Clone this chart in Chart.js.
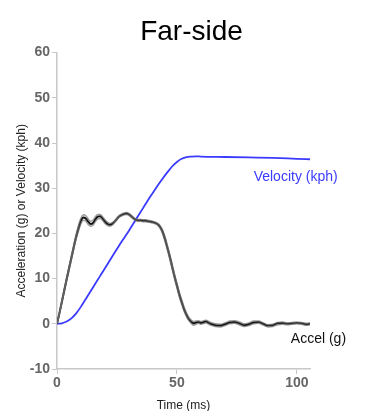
<!DOCTYPE html>
<html>
<head>
<meta charset="utf-8">
<script src="https://cdn.jsdelivr.net/npm/chart.js@4"></script>
<style>
html,body{margin:0;padding:0;background:#fff;}
#wrap{width:383px;height:411px;position:relative;}
</style>
</head>
<body>
<div id="wrap"><canvas id="c" width="383" height="411"></canvas></div>
<script>
const chartTitle = "Far-side";
const xTitle = "Time (ms)";
const yTitle = "Acceleration (g) or Velocity (kph)";
const xTicks = [0, 50, 100];
const yTicks = [-10, 0, 10, 20, 30, 40, 50, 60];

const accelTime = [0,1,2,3,4,5,6,7,8,9,10,11,12,13,14,15,16,17,18,19,20,21,22,23,24,25,26,27,28,29,30,31,32,33,34,35,36,37,38,39,40,41,42,43,44,45,46,47,48,49,50,51,52,53,54,55,56,57,58,59,60,62,64,66,68,70,72,74,76,78,80,82,84,86,88,90,92,94,96,98,100,102,104,105.5];
const accel     = [0,2.3,4.8,7.3,9.8,12.2,14.6,17,19.3,21.2,22.8,23.5,23.3,22.6,22.1,22.3,23.1,23.7,23.8,23.3,22.6,22.1,21.9,22.1,22.6,23.2,23.8,24.1,24.3,24.4,24.2,23.8,23.3,23.0,22.9,22.9,22.8,22.8,22.7,22.6,22.5,22.3,22.0,21.4,20.4,18.8,16.9,14.9,12.7,10.5,8.5,6.5,4.8,3.2,2.0,1.0,0.4,0.1,0.3,0.4,0.2,0.5,0.0,-0.3,-0.4,-0.1,0.3,0.4,0.1,-0.3,-0.1,0.3,0.4,0.0,-0.4,-0.3,0.1,0.2,0.0,0.1,0.2,0.1,-0.1,0];
const accelHi   = [0,2.4,5.0,7.6,10.1,12.6,15.0,17.4,19.8,21.8,23.4,24.1,23.9,23.2,22.7,22.9,23.7,24.2,24.2,23.7,23.0,22.5,22.2,22.4,22.8,23.4,24.0,24.3,24.5,24.6,24.4,24.0,23.5,23.2,23.1,23.1,23.0,23.0,22.9,22.8,22.7,22.5,22.2,21.7,20.8,19.3,17.4,15.4,13.2,11.0,9.0,7.0,5.3,3.7,2.4,1.4,0.8,0.5,0.6,0.7,0.5,0.8,0.3,0.0,-0.1,0.2,0.6,0.7,0.4,0.0,0.2,0.6,0.6,0.2,-0.2,-0.1,0.3,0.4,0.2,0.3,0.4,0.3,0.1,0.2];
const accelLo   = [0,2.2,4.6,7.0,9.5,11.8,14.2,16.6,18.8,20.6,22.2,22.9,22.7,22.0,21.6,21.8,22.6,23.2,23.3,22.9,22.2,21.8,21.6,21.8,22.4,23.0,23.6,23.9,24.1,24.2,24.0,23.6,23.1,22.8,22.7,22.7,22.6,22.6,22.5,22.4,22.3,22.1,21.8,21.1,20.0,18.3,16.4,14.4,12.2,10.0,8.0,6.0,4.3,2.8,1.6,0.7,0.1,-0.3,-0.1,0.1,-0.1,0.2,-0.3,-0.6,-0.7,-0.4,0.0,0.1,-0.2,-0.6,-0.4,0.0,0.1,-0.3,-0.7,-0.6,-0.2,-0.1,-0.2,-0.1,0.0,-0.1,-0.3,-0.2];

const velTime = [0,2,4,6,8,10,12,14,16,18,20,22,24,26,28,30,32,34,36,38,40,42,44,46,48,50,52,54,56,58,60,70,80,90,100,105.5];
const velocity = [0,0.1,0.5,1.2,2.3,3.8,5.5,7.2,8.9,10.6,12.3,14.0,15.7,17.4,19.0,20.6,22.3,24.0,25.7,27.4,29.0,30.6,32.1,33.5,34.8,35.8,36.5,36.9,37.0,37.05,37.0,36.9,36.8,36.7,36.5,36.4];

const seriesLabels = [
  {text: "Velocity (kph)", x: 82, y: 32.4, color: "#3b3bff"},
  {text: "Accel (g)", x: 97.5, y: -3.3, color: "#111111"}
];

function pts(t, v){ return t.map((x,i)=>({x:x, y:v[i]})); }

const labelPlugin = {
  id: 'seriesLabels',
  afterDatasetsDraw(chart){
    const ctx = chart.ctx, xs = chart.scales.x, ys = chart.scales.y;
    ctx.save();
    ctx.font = '14px "Liberation Sans", Arial, sans-serif';
    ctx.textAlign = 'left';
    ctx.textBaseline = 'middle';
    seriesLabels.forEach(l=>{
      ctx.fillStyle = l.color;
      ctx.fillText(l.text, xs.getPixelForValue(l.x), ys.getPixelForValue(l.y));
    });
    ctx.restore();
  }
};

const lineOpts = {pointRadius: 0, cubicInterpolationMode: 'monotone'};

new Chart(document.getElementById('c'), {
  type: 'line',
  data: {
    datasets: [
      Object.assign({data: pts(accelTime, accelHi), borderColor: 'rgba(110,110,110,0.7)', borderWidth: 1.5}, lineOpts),
      Object.assign({data: pts(accelTime, accelLo), borderColor: 'rgba(110,110,110,0.7)', borderWidth: 1.5}, lineOpts),
      Object.assign({data: pts(accelTime, accel), borderColor: '#111', borderWidth: 2}, lineOpts),
      Object.assign({data: pts(velTime, velocity), borderColor: '#3b3bff', borderWidth: 1.8}, lineOpts)
    ]
  },
  options: {
    responsive: false,
    animation: false,
    layout: {padding: 0},
    plugins: {
      legend: {display: false},
      tooltip: {enabled: false},
      title: {display: true, text: chartTitle, color: '#000', font: {family: '"Liberation Sans", Arial, sans-serif', size: 28, weight: 'normal'}, padding: {top: 15, bottom: 4}}
    },
    scales: {
      x: {
        type: 'linear', min: 0, max: 105.5,
        afterBuildTicks: s => { s.ticks = xTicks.map(v=>({value:v})); },
        afterFit: s => { s.height = 42; },
        border: {color: '#c8c8c8', width: 1.5},
        grid: {display: true, drawOnChartArea: false, drawTicks: true, tickLength: 5, color: '#c8c8c8'},
        ticks: {color: '#666', font: {family: '"Liberation Sans", Arial, sans-serif', size: 14, weight: 'bold'}, padding: 1, maxRotation: 0},
        title: {display: true, text: xTitle, color: '#222', font: {family: '"Liberation Sans", Arial, sans-serif', size: 12}, padding: {top: 0, bottom: -2}}
      },
      y: {
        type: 'linear', min: -10, max: 60,
        afterBuildTicks: s => { s.ticks = yTicks.map(v=>({value:v})); },
        afterFit: s => { s.width = 57; },
        border: {color: '#c8c8c8', width: 1.5},
        grid: {display: true, drawOnChartArea: false, drawTicks: true, tickLength: 5, color: '#c8c8c8'},
        ticks: {color: '#666', font: {family: '"Liberation Sans", Arial, sans-serif', size: 14, weight: 'bold'}, padding: 2},
        title: {display: true, text: yTitle, color: '#222', font: {family: '"Liberation Sans", Arial, sans-serif', size: 12}, padding: {top: 14, bottom: 0}}
      },
      yRight: {
        type: 'linear', position: 'right', min: -10, max: 60,
        afterFit: s => { s.width = 73; },
        border: {display: false},
        grid: {display: false, drawTicks: false},
        ticks: {display: false}
      }
    }
  },
  plugins: [labelPlugin]
});
</script>
</body>
</html>
